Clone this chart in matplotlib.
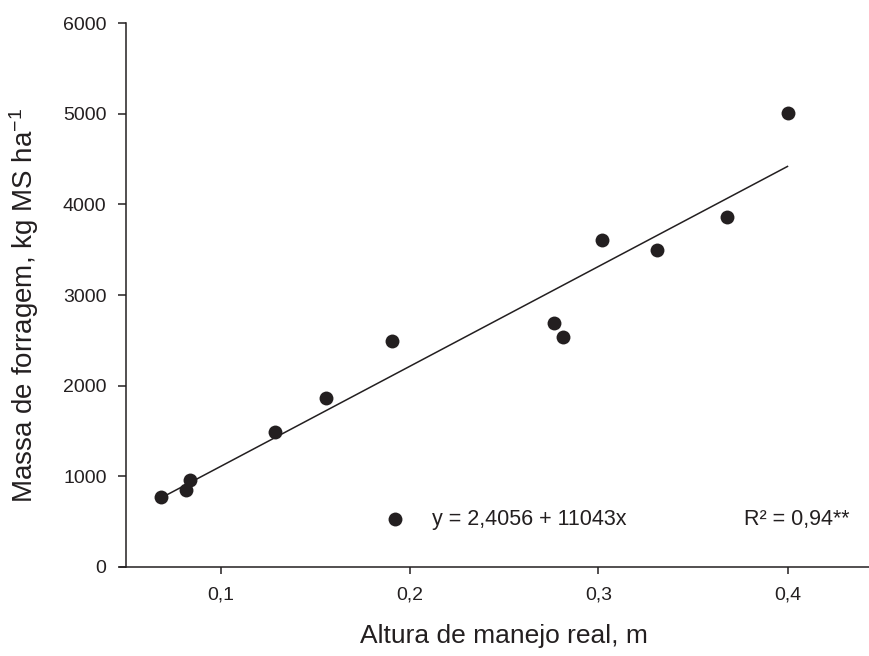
import matplotlib
matplotlib.use("Agg")
import matplotlib.pyplot as plt
import numpy as np

plt.rcParams['font.family'] = ['Liberation Sans', 'DejaVu Sans']
plt.rcParams['mathtext.fontset'] = 'custom'
plt.rcParams['mathtext.rm'] = 'Liberation Sans'
plt.rcParams['mathtext.it'] = 'Liberation Sans:italic'

# Data
altura = [0.0686, 0.0815, 0.0841, 0.1286, 0.156, 0.1905, 0.2767, 0.2811, 0.302, 0.331, 0.368, 0.400]
massa = [770, 847, 957, 1490, 1866, 2492, 2687, 2540, 3607, 3497, 3860, 5006]
intercept = 2.4056
slope = 11043
xticks = [0.1, 0.2, 0.3, 0.4]
xticklabels = ['0,1', '0,2', '0,3', '0,4']
yticks = [0, 1000, 2000, 3000, 4000, 5000, 6000]

col = '#231f20'

fig = plt.figure(figsize=(8.7, 6.56), dpi=100)
ax = fig.add_axes([126/870, 89.3/656, (882-126)/870, (566.7-23.3)/656])

ax.scatter(altura, massa, s=100, color=col, zorder=3, linewidths=0)
xf = np.array([min(altura), max(altura)])
ax.plot(xf, intercept + slope*xf, color=col, lw=1.1)

ax.set_xlim(0.05, 0.45)
ax.set_ylim(0, 6000)
ax.set_xticks(xticks)
ax.set_xticklabels(xticklabels)
ax.set_yticks(yticks)

for s in ['top', 'right']:
    ax.spines[s].set_visible(False)
for s in ['left', 'bottom']:
    ax.spines[s].set_color(col)
    ax.spines[s].set_linewidth(1.1)
ax.spines['bottom'].set_bounds(0.0468, 0.45)

ax.tick_params(axis='x', direction='out', length=5, width=1.1, color=col,
               labelsize=14, pad=9.5, labelcolor=col)
ax.tick_params(axis='y', direction='out', length=5.5, width=1.1, color=col,
               labelsize=14, pad=8.5, labelcolor=col)

ax.set_xlabel('Altura de manejo real, m', fontsize=19, color=col, labelpad=14.5)
ax.set_ylabel(r'Massa de forragem, kg MS ha$^{\mathrm{-1}}$', fontsize=20, color=col)
ax.yaxis.set_label_coords(-0.1124, 0.48)

# legend row
ax.scatter([0.05 + (395-126)/1890], [(566.7-519)/90.57*1000], s=100, color=col,
           linewidths=0, clip_on=False, zorder=3)
ax.text((431.7-126)/756, (566.7-519)/543.4, 'y = 2,4056 + 11043x', transform=ax.transAxes,
        fontsize=15.5, color=col, va='center', ha='left')
ax.text((850-126)/756, (566.7-519)/543.4, 'R² = 0,94**', transform=ax.transAxes,
        fontsize=15.5, color=col, va='center', ha='right')

fig.savefig('out.png', dpi=100)
